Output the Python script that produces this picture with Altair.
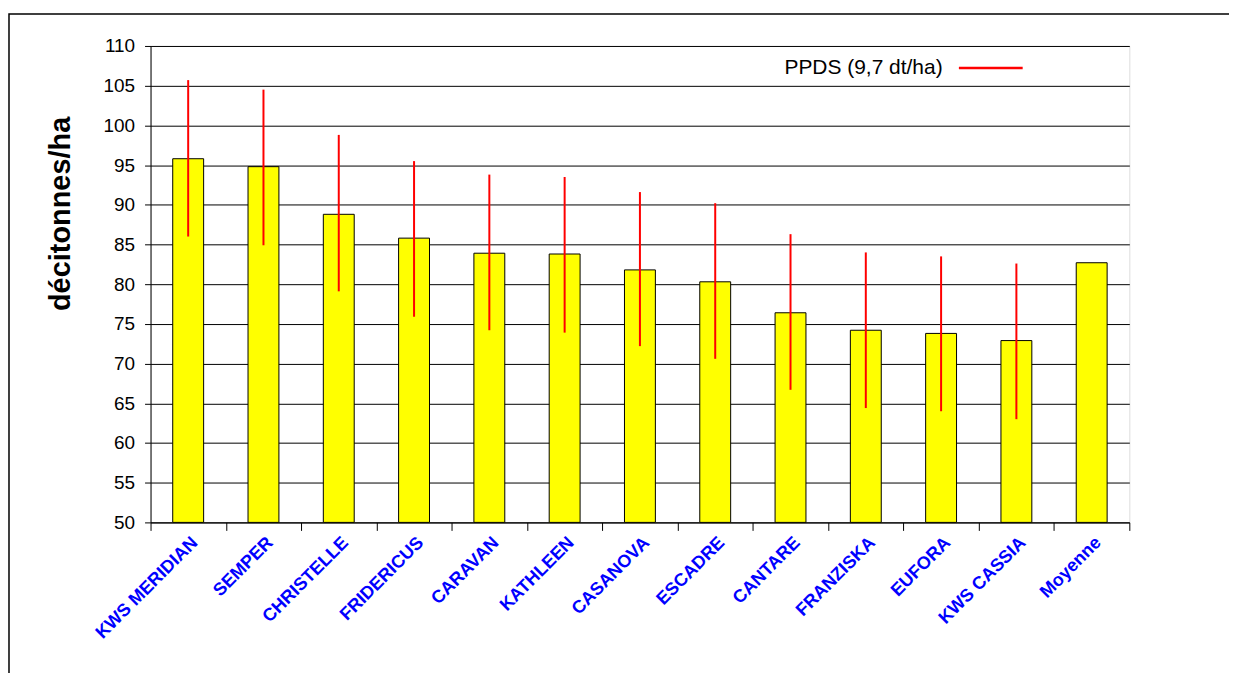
import altair as alt
import pandas as pd

varietes = ["KWS MERIDIAN", "SEMPER", "CHRISTELLE", "FRIDERICUS", "CARAVAN", "KATHLEEN",
            "CASANOVA", "ESCADRE", "CANTARE", "FRANZISKA", "EUFORA", "KWS CASSIA", "Moyenne"]
rendement = [95.8, 94.8, 88.8, 85.8, 83.9, 83.8, 81.8, 80.3, 76.4, 74.2, 73.8, 72.9, 82.7]
ppds_bas = [86.0, 84.9, 79.1, 75.9, 74.2, 73.9, 72.2, 70.6, 66.7, 64.4, 64.0, 63.0, None]
ppds_haut = [105.7, 104.5, 98.8, 95.5, 93.8, 93.5, 91.6, 90.2, 86.3, 84.0, 83.5, 82.6, None]
y_ticks = [50, 55, 60, 65, 70, 75, 80, 85, 90, 95, 100, 105, 110]
legende = "PPDS (9,7 dt/ha)"

df = pd.DataFrame({"variete": varietes, "rendement": rendement,
                   "bas": ppds_bas, "haut": ppds_haut})
df_err = df.dropna()
one = pd.DataFrame({"t": [legende]})

W, H = 982, 478

x_axis = alt.Axis(title=None, labelAngle=-45, labelAlign="right", labelBaseline="top",
                  labelColor="#0000FF", labelFont="Liberation Sans", labelFontWeight="bold",
                  labelFontSize=18, labelPadding=3, tickBand="extent", ticks=True,
                  tickSize=8, tickColor="black", domainColor="black", grid=False,
                  labelLimit=300, labelOverlap=False)
x_scale = alt.Scale(paddingInner=0, paddingOuter=0)
y_scale = alt.Scale(domain=[50, 110], nice=False, zero=False)
y_axis = alt.Axis(values=y_ticks, title="décitonnes/ha", titleFont="Liberation Sans",
                  titleFontSize=29, titleFontWeight="bold", titleColor="black",
                  titleX=-90, titleY=168, titleAlign="center", titleBaseline="middle",
                  labelFont="Liberation Sans", labelFontSize=19, labelColor="black",
                  labelPadding=10, tickSize=6, tickColor="black", domainColor="black",
                  labelOverlap=False,
                  grid=True, gridColor="black", gridWidth=1, gridOpacity=1)

bars = alt.Chart(df).mark_bar(size=31, color="#FFFF00", stroke="black", strokeWidth=1).encode(
    x=alt.X("variete:N", sort=varietes, scale=x_scale, axis=x_axis),
    y=alt.Y("rendement:Q", scale=y_scale, axis=y_axis),
    y2=alt.datum(50),
)

err = alt.Chart(df_err).mark_rule(color="#FF0000", strokeWidth=2).encode(
    x=alt.X("variete:N", sort=varietes, scale=x_scale, axis=x_axis),
    y=alt.Y("bas:Q", scale=y_scale, axis=y_axis),
    y2="haut:Q",
)

leg_text = alt.Chart(one).mark_text(align="left", baseline="alphabetic", font="Liberation Sans",
                                    fontSize=21, color="black").encode(
    x=alt.value(636), y=alt.value(28), text="t:N")
leg_line = alt.Chart(one).mark_rule(color="#FF0000", strokeWidth=2.5).encode(
    x=alt.value(811), x2=alt.value(875), y=alt.value(22))

frame = alt.Chart(one).mark_rect(filled=False, stroke="black", strokeWidth=1.5).encode(
    x=alt.value(-142), x2=alt.value(1200), y=alt.value(-32), y2=alt.value(700))

chart = alt.layer(bars, err, frame, leg_text, leg_line).properties(
    width=W, height=H,
    autosize=alt.AutoSizeParams(type="none"),
    padding={"left": 143, "top": 37, "right": 100, "bottom": 150},
).configure_view(stroke=None).configure(background="white")

chart.save("out.html", embed_options={"renderer": "svg", "actions": False})
